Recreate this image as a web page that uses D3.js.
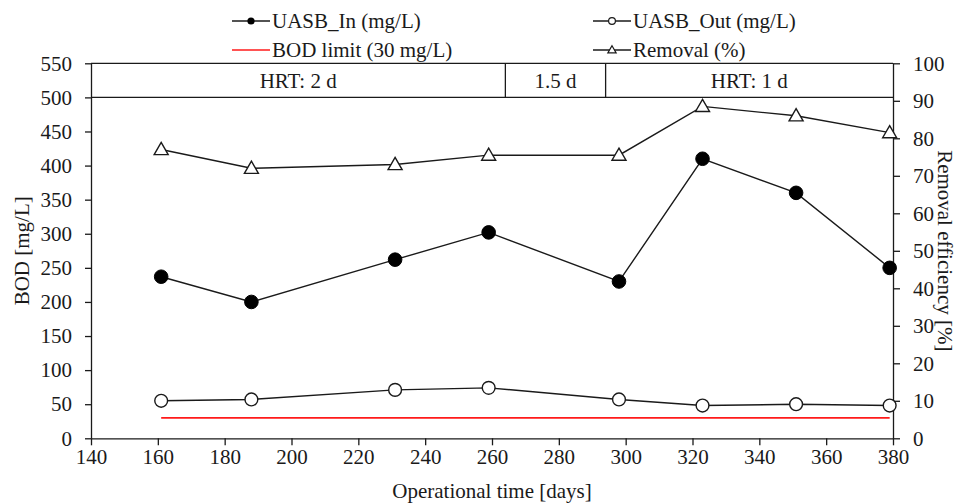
<!DOCTYPE html>
<html>
<head>
<meta charset="utf-8">
<script src="https://cdn.jsdelivr.net/npm/d3@7"></script>
<style>
  html, body { margin: 0; padding: 0; background: #fff; }
  svg { display: block; }
</style>
</head>
<body>
<svg id="chart" width="965" height="504"></svg>
<script>
// Sampling days (operational time)
const days = [161, 188, 231, 259, 298, 323, 351, 379];
// BOD at the UASB inlet and outlet, mg/L
const uasbIn = [237, 200, 262, 302, 230, 410, 360, 250];
const uasbOut = [55, 57, 71, 74, 57, 48, 50, 48];
// BOD removal efficiency, %
const removal = [77, 72, 73, 75.5, 75.5, 88.5, 86, 81.5];
// Discharge limit for BOD, mg/L
const bodLimit = 30;
// Hydraulic retention time phases shown in the band above the data
const hrtLabels = ["HRT: 2 d", "1.5 d", "HRT: 1 d"];
const hrtBounds = [140, 264, 294, 380];
// Axis ticks
const xTicks = d3.range(140, 381, 20);
const yTicks = d3.range(0, 551, 50);
const y2Ticks = d3.range(0, 101, 10);

const W = 965, H = 504;
const m = { left: 91, right: 72, top: 63.3, bottom: 65.7 };
const FONT = "'Liberation Serif', 'Times New Roman', serif";
const FS = "21px";
const ink = "#1a1a1a";

const svg = d3.select("#chart").style("font-family", FONT);

const x = d3.scaleLinear().domain([140, 380]).range([m.left, W - m.right]);
const y = d3.scaleLinear().domain([0, 550]).range([H - m.bottom, m.top]);
const y2 = d3.scaleLinear().domain([0, 100]).range([H - m.bottom, m.top]);

function txt(sel) {
  return sel.style("font-family", FONT).style("font-size", FS).attr("fill", ink);
}

function styleAxis(g) {
  g.attr("font-family", null).attr("font-size", null);
  g.selectAll("path.domain").attr("stroke", ink).attr("stroke-width", 1.3);
  g.selectAll(".tick line").attr("stroke", ink).attr("stroke-width", 1.3);
  txt(g.selectAll(".tick text"));
}

// Bottom axis
svg.append("g")
  .attr("transform", `translate(0,${H - m.bottom})`)
  .call(d3.axisBottom(x).tickValues(xTicks).tickSize(7).tickPadding(4).tickSizeOuter(0))
  .call(styleAxis);

// Left axis
svg.append("g")
  .attr("transform", `translate(${m.left},0)`)
  .call(d3.axisLeft(y).tickValues(yTicks).tickSize(6).tickPadding(13).tickSizeOuter(0))
  .call(styleAxis);

// Right axis
svg.append("g")
  .attr("transform", `translate(${W - m.right},0)`)
  .call(d3.axisRight(y2).tickValues(y2Ticks).tickSize(7).tickPadding(13).tickSizeOuter(0))
  .call(styleAxis);

// Top frame line
svg.append("line")
  .attr("x1", m.left).attr("x2", W - m.right)
  .attr("y1", y(550)).attr("y2", y(550))
  .attr("stroke", ink).attr("stroke-width", 1.3);

// HRT band: lower border and dividers
svg.append("line")
  .attr("x1", m.left).attr("x2", W - m.right)
  .attr("y1", y(500)).attr("y2", y(500))
  .attr("stroke", ink).attr("stroke-width", 1.3);
svg.selectAll("line.hrt-div")
  .data(hrtBounds.slice(1, -1))
  .join("line")
  .attr("class", "hrt-div")
  .attr("x1", d => x(d)).attr("x2", d => x(d))
  .attr("y1", y(550)).attr("y2", y(500))
  .attr("stroke", ink).attr("stroke-width", 1.3);
svg.selectAll("text.hrt")
  .data(hrtLabels)
  .join("text")
  .attr("class", "hrt")
  .attr("x", (d, i) => (x(hrtBounds[i]) + x(hrtBounds[i + 1])) / 2)
  .attr("y", (y(550) + y(500)) / 2)
  .attr("dy", "0.35em")
  .attr("text-anchor", "middle")
  .call(txt)
  .text(d => d);

// BOD limit
svg.append("line")
  .attr("x1", x(days[0])).attr("x2", x(days[days.length - 1]))
  .attr("y1", y(bodLimit)).attr("y2", y(bodLimit))
  .attr("stroke", "#ff1a1a").attr("stroke-width", 1.6);

const lineY = d3.line().x((d, i) => x(days[i])).y(d => y(d));
const lineY2 = d3.line().x((d, i) => x(days[i])).y(d => y2(d));

// Series lines
[[uasbIn, lineY], [uasbOut, lineY], [removal, lineY2]].forEach(([vals, gen]) => {
  svg.append("path")
    .attr("d", gen(vals))
    .attr("fill", "none")
    .attr("stroke", ink)
    .attr("stroke-width", 1.4);
});

const tri = d3.symbol().type(d3.symbolTriangle);

// Markers
svg.selectAll("circle.in")
  .data(uasbIn).join("circle").attr("class", "in")
  .attr("cx", (d, i) => x(days[i])).attr("cy", d => y(d))
  .attr("r", 6.8).attr("fill", "#000").attr("stroke", "#000").attr("stroke-width", 1);
svg.selectAll("circle.out")
  .data(uasbOut).join("circle").attr("class", "out")
  .attr("cx", (d, i) => x(days[i])).attr("cy", d => y(d))
  .attr("r", 6.4).attr("fill", "#fff").attr("stroke", ink).attr("stroke-width", 1.4);
svg.selectAll("path.rem")
  .data(removal).join("path").attr("class", "rem")
  .attr("d", tri.size(85))
  .attr("transform", (d, i) => `translate(${x(days[i])},${y2(d) + 1})`)
  .attr("fill", "#fff").attr("stroke", ink).attr("stroke-width", 1.4);

// Axis titles
svg.append("text")
  .attr("transform", `translate(22,${(m.top + H - m.bottom) / 2}) rotate(-90)`)
  .attr("text-anchor", "middle").attr("dy", "0.35em")
  .call(txt)
  .text("BOD [mg/L]");
svg.append("text")
  .attr("transform", `translate(945,${(m.top + H - m.bottom) / 2}) rotate(90)`)
  .attr("text-anchor", "middle").attr("dy", "0.35em")
  .call(txt)
  .text("Removal efficiency [%]");
svg.append("text")
  .attr("x", (m.left + W - m.right) / 2).attr("y", 491)
  .attr("text-anchor", "middle").attr("dy", "0.35em")
  .call(txt)
  .text("Operational time [days]");

// Legend
const legendItems = [
  { label: "UASB_In (mg/L)", kind: "filled", lx: 232, ly: 21 },
  { label: "UASB_Out (mg/L)", kind: "open", lx: 593, ly: 21 },
  { label: "BOD limit (30 mg/L)", kind: "limit", lx: 232, ly: 50 },
  { label: "Removal (%)", kind: "tri", lx: 593, ly: 50 }
];
const lg = svg.append("g");
legendItems.forEach(it => {
  const g = lg.append("g").attr("transform", `translate(${it.lx},${it.ly})`);
  g.append("line").attr("x1", 0).attr("x2", 38).attr("y1", 0).attr("y2", 0)
    .attr("stroke", it.kind === "limit" ? "#ff1a1a" : ink)
    .attr("stroke-width", it.kind === "limit" ? 1.6 : 1.4);
  if (it.kind === "filled") {
    g.append("circle").attr("cx", 19).attr("r", 3.6).attr("fill", "#000");
  } else if (it.kind === "open") {
    g.append("circle").attr("cx", 19).attr("r", 3.4).attr("fill", "#fff")
      .attr("stroke", ink).attr("stroke-width", 1.2);
  } else if (it.kind === "tri") {
    g.append("path").attr("d", tri.size(30)).attr("transform", "translate(19,0.5)")
      .attr("fill", "#fff").attr("stroke", ink).attr("stroke-width", 1.2);
  }
  g.append("text").attr("x", 40).attr("y", 0).attr("dy", "0.35em")
    .call(txt).text(it.label);
});
</script>
</body>
</html>
